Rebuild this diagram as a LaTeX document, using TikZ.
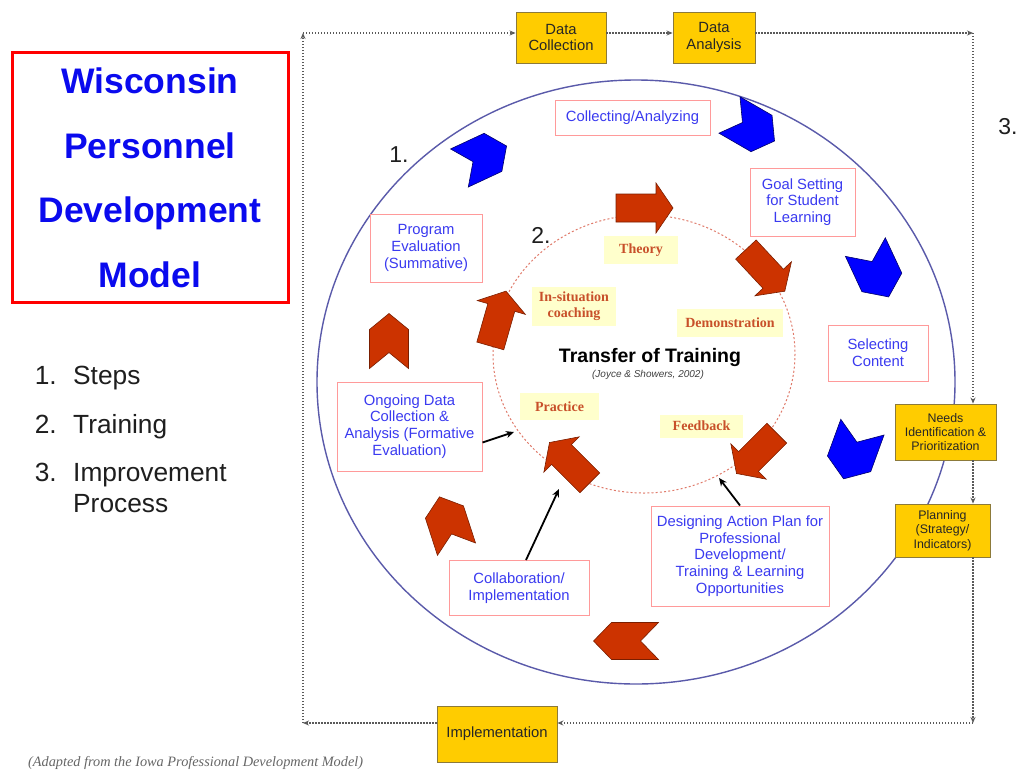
\documentclass[tikz,border=0pt]{standalone}
\usepackage{fontspec}
\setmainfont{Liberation Sans}
\newfontfamily\serifface{Liberation Serif}
\usetikzlibrary{arrows.meta,calc}

\definecolor{ringblue}{HTML}{5A5AAA}
\definecolor{innerred}{HTML}{E07A6A}
\definecolor{pinkline}{HTML}{FF9A9A}
\definecolor{stepblue}{HTML}{3A3AF0}
\definecolor{gold}{HTML}{FFCC00}
\definecolor{goldedge}{HTML}{8C7A3A}
\definecolor{paleyellow}{HTML}{FFFFCC}
\definecolor{labelred}{HTML}{C8502A}
\definecolor{arrowred}{HTML}{CC3300}
\definecolor{arrowedge}{HTML}{7A1E00}
\definecolor{chevblue}{HTML}{0000FF}
\definecolor{chevedge}{HTML}{00006A}
\definecolor{flowgray}{HTML}{5A5A5A}
\definecolor{titlered}{HTML}{FF0000}
\definecolor{titleblue}{HTML}{0A0AEE}
\definecolor{listgray}{HTML}{1E1E1E}

% chevron: centre x, centre y, direction, length, width, tip depth, style
\newcommand\drawchev[7]{%
  \begin{scope}[shift={(#1,#2)},rotate=#3]
    \path[#7] ({-#4/2},{-#5/2}) -- ({#4/2-#6},{-#5/2}) -- ({#4/2},0)
      -- ({#4/2-#6},{#5/2}) -- ({-#4/2},{#5/2}) -- ({-#4/2+#6},0) -- cycle;
  \end{scope}}

% block arrow: centre x, centre y, direction
\newcommand\drawblock[3]{%
  \begin{scope}[shift={(#1,#2)},rotate=#3]
    \path[redfill] (-28,-14) -- (12,-14) -- (12,-25) -- (29,0)
      -- (12,25) -- (12,14) -- (-28,14) -- cycle;
  \end{scope}}

\begin{document}
\begin{tikzpicture}[x=1pt,y=-1pt,
  stepbox/.style={draw=pinkline, fill=white, line width=1pt, text=stepblue,
    align=center, inner sep=0pt, font=\fontsize{14.8}{16.8}\selectfont},
  goldbox/.style={draw=goldedge, fill=gold, line width=0.9pt, text=black!85,
    align=center, inner sep=0pt, font=\fontsize{14.8}{16.5}\selectfont},
  trainlabel/.style={fill=paleyellow, text=labelred, align=center, inner sep=0pt,
    font=\serifface\bfseries\fontsize{14}{16}\selectfont},
  flow/.style={draw=flowgray, line width=1.3pt, dash pattern=on 1.4pt off 1.6pt,
    -{Stealth[length=6pt,width=5pt]}},
  conn/.style={draw=black, line width=1.8pt, -{Stealth[length=8pt,width=7pt]}},
  bluechev/.style={fill=chevblue, draw=chevedge, line width=0.6pt},
  redfill/.style={fill=arrowred, draw=arrowedge, line width=0.6pt},
  listtxt/.style={text=listgray, inner sep=0pt, font=\fontsize{26.3}{30}\selectfont},
  numtxt/.style={text=listgray, inner sep=0pt, font=\fontsize{23}{26}\selectfont}]
\useasboundingbox (0,0) rectangle (1020,769);
\fill[white] (0,0) rectangle (1020,769);

% ---- title panel ----
\node[draw=titlered, line width=3pt, minimum width=276pt, minimum height=250pt,
  inner sep=0pt] (titlebox) at (150,177) {};
\node[text=titleblue, align=center, inner sep=0pt,
  font=\bfseries\fontsize{35.5}{64.5}\selectfont] (title) at (150,178)
  {Wisconsin\\Personnel\\Development\\Model};

% ---- legend ----
\node[listtxt, anchor=base east] (n1) at (57,384) {1.};
\node[listtxt, anchor=base west] (l1) at (73,384) {Steps};
\node[listtxt, anchor=base east] (n2) at (57,433) {2.};
\node[listtxt, anchor=base west] (l2) at (73,433) {Training};
\node[listtxt, anchor=base east] (n3) at (57,481) {3.};
\node[listtxt, anchor=base west] (l3) at (73,481) {Improvement};
\node[listtxt, anchor=base west] (l3b) at (73,512) {Process};

% ---- rings ----
\draw[ringblue, line width=1.4pt] (636,382) ellipse [x radius=319, y radius=302];
\draw[innerred, line width=1pt, dash pattern=on 2pt off 2.2pt]
  (644,354) ellipse [x radius=151, y radius=139];

% ---- step chevrons around the outer ring ----
\drawchev{483}{157}{25}{52}{42}{15}{bluechev}
\drawchev{752}{128}{-30}{52}{42}{15}{bluechev}
\drawchev{877}{272}{-65}{55}{44}{16}{bluechev}
\drawchev{853}{453}{-110}{55}{46}{16}{bluechev}
\drawchev{626}{641}{180}{65}{37}{18}{redfill}
\drawchev{448}{523}{108}{55}{40}{16}{redfill}
\drawchev{389}{341}{90}{55}{39}{16}{redfill}

% ---- training arrows around the inner ring ----
\drawblock{644}{208}{0}
\drawblock{765}{270}{-47}
\drawblock{757}{453}{-135}
\drawblock{570}{463}{135}
\drawblock{498}{319}{74}

% ---- step boxes ----
\node[stepbox, minimum width=155pt, minimum height=35pt] (coll) at (632.5,117.5)
  {Collecting/Analyzing};
\node[stepbox, minimum width=105pt, minimum height=68pt] (goal) at (802.5,202)
  {Goal Setting\\for Student\\Learning};
\node[stepbox, minimum width=100pt, minimum height=56pt] (sel) at (878,353)
  {Selecting\\Content};
\node[stepbox, minimum width=178pt, minimum height=100pt] (design) at (740,556)
  {Designing Action Plan for\\Professional\\Development/\\Training \& Learning\\Opportunities};
\node[stepbox, minimum width=140pt, minimum height=55pt] (collab) at (519,588)
  {Collaboration/\\Implementation};
\node[stepbox, minimum width=145pt, minimum height=89pt] (ongoing) at (409.5,426.5)
  {Ongoing Data\\Collection \&\\Analysis (Formative\\Evaluation)};
\node[stepbox, minimum width=112pt, minimum height=68pt] (prog) at (426,248)
  {Program\\Evaluation\\(Summative)};

% ---- training labels ----
\node[trainlabel, minimum width=74pt, minimum height=28pt] (theory) at (641,250) {Theory};
\node[trainlabel, minimum width=84pt, minimum height=39pt] (coach) at (574,306)
  {In-situation\\coaching};
\node[trainlabel, minimum width=106pt, minimum height=28pt] (demo) at (730,323) {Demonstration};
\node[trainlabel, minimum width=79pt, minimum height=27pt] (practice) at (559.5,406.5) {Practice};
\node[trainlabel, minimum width=83pt, minimum height=23pt] (feedback) at (701.5,426) {Feedback};

% ---- centre title ----
\node[inner sep=0pt, font=\bfseries\fontsize{19.5}{22}\selectfont] (tot) at (650,357)
  {Transfer of Training};
\node[inner sep=0pt, text=black!75, font=\itshape\fontsize{10}{12}\selectfont] (cite)
  at (648,375) {(Joyce \& Showers, 2002)};

% ---- ring numbers ----
\node[numtxt] (m1) at (399,155) {1.};
\node[numtxt] (m2) at (541,235) {2.};
\node[numtxt] (m3) at (1008,127) {3.};

% ---- connectors into the training ring ----
\coordinate (pPractice) at (514,432);
\coordinate (pCollab) at (559,489);
\coordinate (pFeed) at (719,478);
\draw[conn] ($(ongoing.east)+(0,16)$) -- (pPractice);
\draw[conn] ($(collab.north)+(7,0)$) -- (pCollab);
\draw[conn] (design.north) -- (pFeed);

% ---- improvement process loop ----
\node[goldbox, minimum width=90pt, minimum height=51pt] (dc) at (561,37.5)
  {Data\\Collection};
\node[goldbox, minimum width=82pt, minimum height=51pt] (da) at (714,37.5)
  {Data\\Analysis};
\node[goldbox, minimum width=101pt, minimum height=56pt,
  font=\fontsize{12.4}{14}\selectfont] (needs) at (945.5,432)
  {Needs\\Identification \&\\Prioritization};
\node[goldbox, minimum width=95pt, minimum height=53pt,
  font=\fontsize{12.4}{14.5}\selectfont] (plan) at (942.5,530.5)
  {Planning\\(Strategy/\\Indicators)};
\node[goldbox, minimum width=120pt, minimum height=56pt] (impl) at (497,734)
  {Implementation};

\coordinate (TL) at (303,33);
\coordinate (TR) at (973,33);
\coordinate (BR) at (973,723);
\coordinate (BL) at (303,723);
\draw[flow] (TL) -- (TL -| dc.west);
\draw[flow] (TL -| dc.east) -- (TL -| da.west);
\draw[flow] (TL -| da.east) -- (TR);
\draw[flow] (TR) -- (TR |- needs.north);
\draw[flow] (TR |- needs.south) -- (TR |- plan.north);
\draw[flow] (TR |- plan.south) -- (BR);
\draw[flow] (BR) -- (BR -| impl.east);
\draw[flow] (BL -| impl.west) -- (BL);
\draw[flow] (BL) -- (TL);

% ---- source note ----
\node[anchor=base west, inner sep=0pt, text=black!60,
  font=\serifface\itshape\fontsize{14.3}{16}\selectfont] (source) at (28,766)
  {(Adapted from the Iowa Professional Development Model)};
\end{tikzpicture}
\end{document}
